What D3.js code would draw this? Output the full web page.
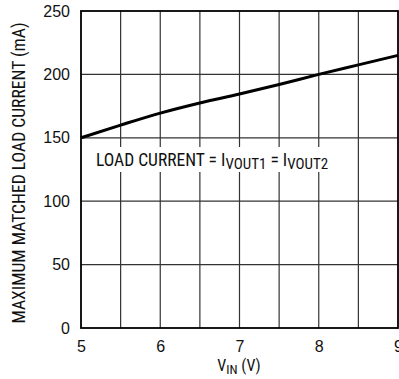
<!DOCTYPE html>
<html><head><meta charset="utf-8">
<script src="https://cdn.jsdelivr.net/npm/d3@7"></script>
<style>
body{margin:0;background:#fff;}
text{font-family:"Liberation Sans Narrow","Arial Narrow","Roboto Condensed",sans-serif;fill:#111;}
</style></head><body>
<svg id="c" width="399" height="379"></svg>
<script>
const vin = [5, 5.5, 6, 6.5, 7, 7.5, 8, 8.5, 9];
const current = [150, 160, 169.5, 177.5, 184.5, 192, 200, 207.5, 215];
const xTicks = [5, 6, 7, 8, 9];
const yTicks = [0, 50, 100, 150, 200, 250];
const xGrid = [5.5, 6, 6.5, 7, 7.5, 8, 8.5];
const yGrid = [50, 100, 150, 200];

const svg = d3.select("#c");
const x = d3.scaleLinear().domain([5, 9]).range([81, 398]);
const y = d3.scaleLinear().domain([0, 250]).range([328, 11]);

const g = svg.append("g");
g.selectAll(".vg").data(xGrid).join("line")
  .attr("x1", d => x(d)).attr("x2", d => x(d)).attr("y1", y(0)).attr("y2", y(250))
  .attr("stroke", "#333").attr("stroke-width", 1.2);
g.selectAll(".hg").data(yGrid).join("line")
  .attr("y1", d => y(d)).attr("y2", d => y(d)).attr("x1", x(5)).attr("x2", x(9))
  .attr("stroke", "#333").attr("stroke-width", 1.2);

// annotation with white background
const ann = g.append("text").attr("x", 96).attr("y", 166).attr("font-size", 17.5);
ann.append("tspan").text("LOAD CURRENT = I");
ann.append("tspan").attr("font-size", 15).attr("dy", 3).text("VOUT1");
ann.append("tspan").attr("dy", -3).text(" = I");
ann.append("tspan").attr("font-size", 15).attr("dy", 3).text("VOUT2");
const bb = ann.node().getBBox();
g.insert("rect", "text").attr("x", bb.x - 5).attr("y", 147)
  .attr("width", bb.width + 9).attr("height", 25).attr("fill", "#fff");

// frame
g.append("rect").attr("x", x(5)).attr("y", y(250)).attr("width", x(9) - x(5)).attr("height", y(0) - y(250))
  .attr("fill", "none").attr("stroke", "#000").attr("stroke-width", 1.8);

// curve
const line = d3.line().x((d, i) => x(vin[i])).y(d => y(d)).curve(d3.curveMonotoneX);
g.append("path").datum(current).attr("d", line).attr("fill", "none")
  .attr("stroke", "#000").attr("stroke-width", 3);

// axes
const xa = svg.append("g").attr("transform", `translate(0,${y(0)})`)
  .call(d3.axisBottom(x).tickValues(xTicks).tickFormat(d3.format("d")).tickSize(0).tickPadding(13));
xa.select(".domain").remove();
xa.selectAll("text").attr("font-size", 16).attr("fill", "#111");
const ya = svg.append("g").attr("transform", `translate(${x(5)},0)`)
  .call(d3.axisLeft(y).tickValues(yTicks).tickSize(0).tickPadding(11));
ya.select(".domain").remove();
ya.selectAll("text").attr("font-size", 16).attr("fill", "#111");
svg.selectAll(".tick text").style("font-family", "'Liberation Sans Narrow','Arial Narrow',sans-serif");

// x label
const xl = svg.append("text").attr("x", 239).attr("y", 371).attr("text-anchor", "middle").attr("font-size", 16);
xl.append("tspan").text("V");
xl.append("tspan").attr("font-size", 13).attr("dy", 3).text("IN");
xl.append("tspan").attr("dy", -3).text(" (V)");

// y label
svg.append("text").attr("transform", "translate(24.5,173) rotate(-90)")
  .attr("text-anchor", "middle").attr("font-size", 17.6).text("MAXIMUM MATCHED LOAD CURRENT (mA)");
</script></body></html>
